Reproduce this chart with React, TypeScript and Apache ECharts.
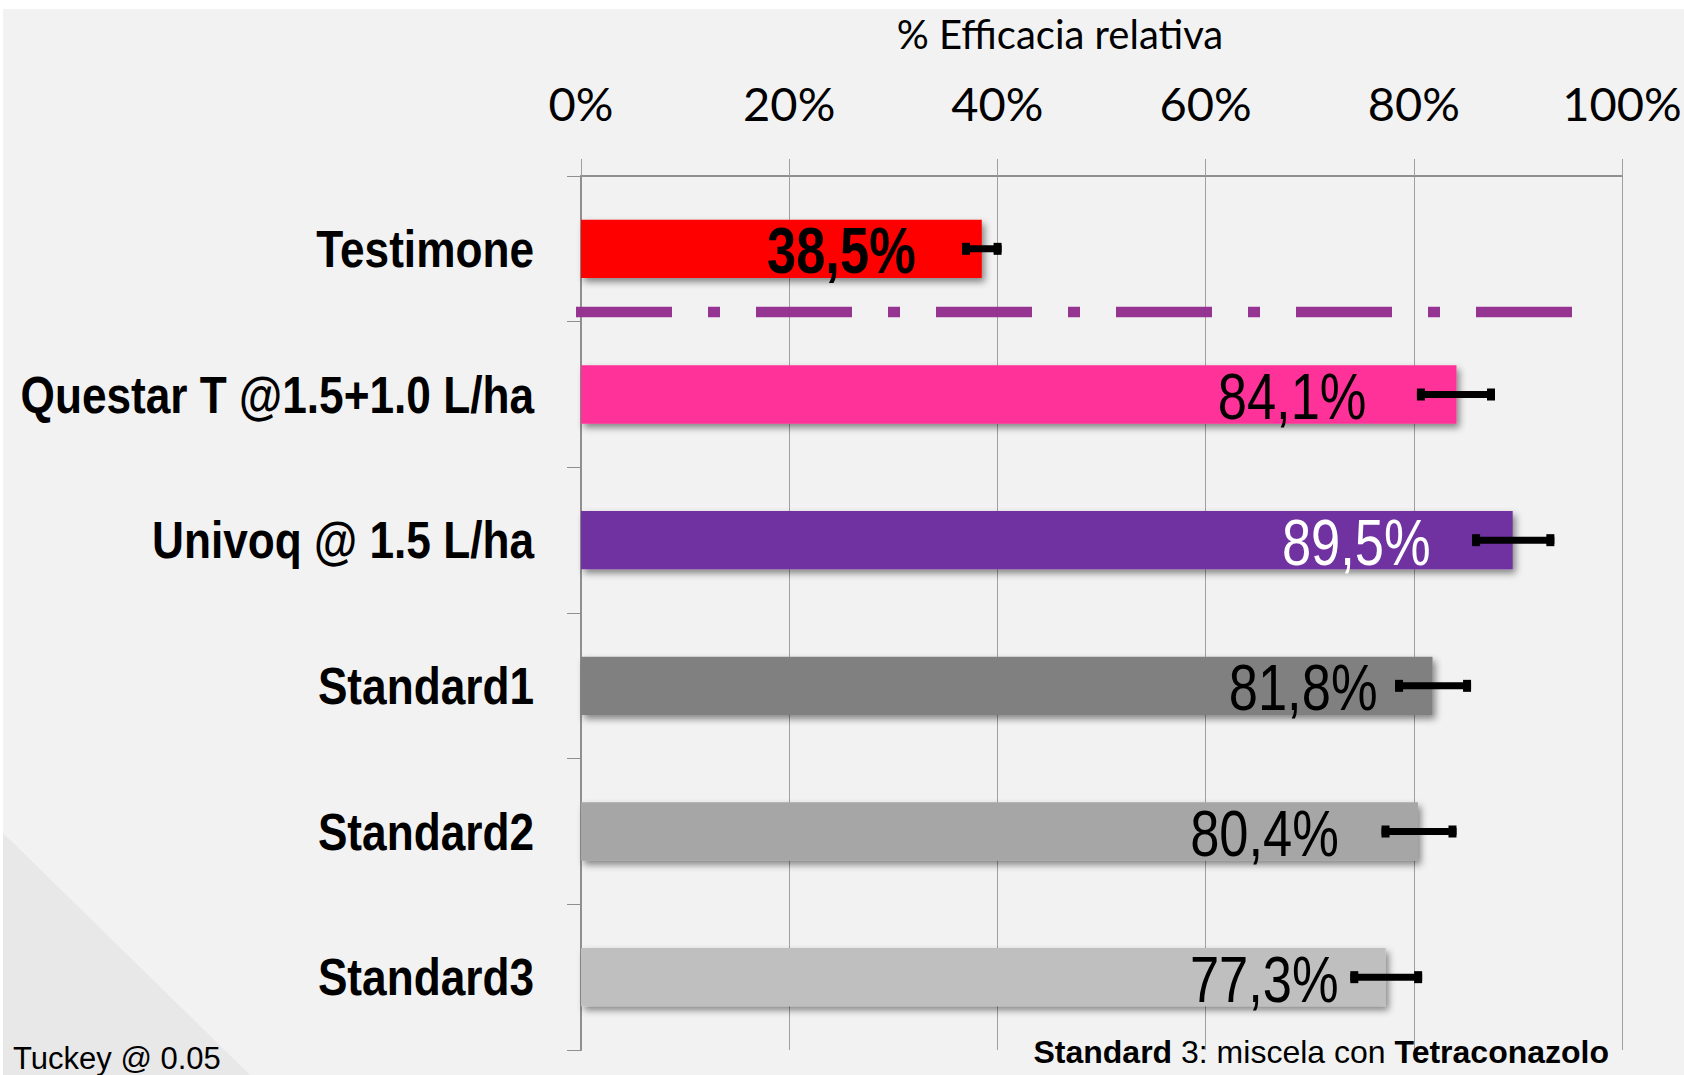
import React, { useEffect, useRef } from "react";
import * as echarts from "echarts";

// ---- data ----
const categories = [
  "Testimone",
  "Questar T @1.5+1.0 L/ha",
  "Univoq @ 1.5 L/ha",
  "Standard1",
  "Standard2",
  "Standard3",
];
const efficacy = [38.5, 84.1, 89.5, 81.8, 80.4, 77.3];
const errLow = [36.6, 80.3, 85.6, 78.2, 76.9, 73.9];
const errHigh = [40.4, 87.8, 93.5, 85.5, 84.1, 80.8];
const xTickValues = [0, 20, 40, 60, 80, 100];
const axisTitle = "% Efficacia relativa";
const noteLeft = "Tuckey @ 0.05";

// ---- styles ----
const barColors = ["#ff0000", "#ff3399", "#7030a0", "#808080", "#a6a6a6", "#bfbfbf"];
const labelColors = ["#000000", "#000000", "#ffffff", "#000000", "#000000", "#000000"];
const labelBold = [true, false, false, false, false, false];
const labelInset = [66, 90, 82, 55, 79, 47];

const CAL = 'Lato, "Liberation Sans", sans-serif';
const ARIAL = '"Liberation Sans", Arial, sans-serif';
const NARROW_SCALE = 0.82;

export default function App() {
  const ref = useRef<HTMLDivElement>(null);
  useEffect(() => {
    if (!ref.current) return;
    const chart = echarts.init(ref.current, null, { renderer: "svg" });
    const fmt = (v: number) => v.toFixed(1).replace(".", ",") + "%";
    const option: any = {
      animation: false,
      backgroundColor: "#ffffff",
      grid: { left: 581, right: 62, top: 176, bottom: 25, containLabel: false, outerBoundsMode: "none" },
      xAxis: {
        type: "value",
        position: "top",
        min: 0,
        max: 100,
        interval: 20,
        axisLine: { show: true, lineStyle: { color: "#8f8f8f", width: 2 } },
        axisTick: { show: true, inside: false, length: 17, lineStyle: { color: "#a0a0a0", width: 1 } },
        splitLine: { show: true, lineStyle: { color: "#a0a0a0", width: 1 } },
        axisLabel: {
          margin: 50,
          fontFamily: CAL,
          fontSize: 47,
          color: "#000000",
          formatter: (v: number) => (xTickValues.includes(v) ? v + "%" : ""),
        },
      },
      yAxis: {
        type: "category",
        inverse: true,
        data: categories,
        axisLine: { show: true, lineStyle: { color: "#8f8f8f", width: 2 } },
        axisTick: { show: true, inside: false, length: 14, lineStyle: { color: "#8f8f8f", width: 1 } },
        axisLabel: { show: false },
      },
      graphic: [
        { type: "rect", z: -10, shape: { x: 3, y: 9, width: 1681, height: 1066 }, style: { fill: "#f2f2f2" }, silent: true },
        { type: "polygon", z: -9, shape: { points: [[3, 833], [250, 1075], [3, 1075]] }, style: { fill: "#e8e8e8" }, silent: true },
        {
          type: "text", z: 10, x: 1060, y: 34,
          style: { text: axisTitle, font: `40px ${CAL}`, fill: "#000", align: "center", verticalAlign: "middle" },
        },
        {
          type: "line", z: 20,
          shape: { x1: 576, y1: 312, x2: 1572, y2: 312 },
          style: { stroke: "#953591", lineWidth: 10.5, lineDash: [96, 36, 12, 36], lineCap: "butt" },
          silent: true,
        },
        {
          type: "text", z: 10, x: 13, y: 1058,
          style: { text: noteLeft, font: `31px ${ARIAL}`, fill: "#000", align: "left", verticalAlign: "middle" },
        },
        {
          type: "text", z: 10, x: 1609, y: 1052,
          style: {
            text: "{b|Standard}{r| 3: miscela con }{b|Tetraconazolo}",
            align: "right", verticalAlign: "middle",
            rich: {
              b: { fontFamily: ARIAL, fontSize: 32, fontWeight: "bold", fill: "#000" },
              r: { fontFamily: ARIAL, fontSize: 32, fill: "#000" },
            },
          },
        },
      ],
      series: [
        {
          type: "bar",
          barWidth: "40%",
          z: 3,
          data: efficacy.map((v, i) => ({
            value: v,
            itemStyle: {
              color: barColors[i],
              shadowBlur: 7,
              shadowColor: "rgba(0,0,0,0.45)",
              shadowOffsetX: 3,
              shadowOffsetY: 4,
            },
          })),
        },
        {
          type: "custom",
          z: 5,
          encode: { x: [1, 2], y: 0 },
          data: efficacy.map((_, i) => [i, errLow[i], errHigh[i]]),
          renderItem: (params: any, api: any) => {
            const idx = api.value(0);
            const p1 = api.coord([api.value(1), idx]);
            const p2 = api.coord([api.value(2), idx]);
            const th = 7;
            const capW = 8;
            const capH = 12;
            const fill = { fill: "#000000" };
            return {
              type: "group",
              children: [
                { type: "rect", shape: { x: p1[0], y: p1[1] - th / 2, width: p2[0] - p1[0], height: th }, style: fill },
                { type: "rect", shape: { x: p1[0], y: p1[1] - capH / 2, width: capW, height: capH }, style: fill },
                { type: "rect", shape: { x: p2[0] - capW, y: p2[1] - capH / 2, width: capW, height: capH }, style: fill },
              ],
            };
          },
        },
        {
          // value labels inside bars (condensed)
          type: "custom",
          z: 4,
          encode: { x: 1, y: 0 },
          data: efficacy.map((v, i) => [i, v]),
          renderItem: (params: any, api: any) => {
            const idx = api.value(0);
            const v = api.value(1);
            const p = api.coord([v, idx]);
            const i = params.dataIndex;
            return {
              type: "text",
              x: p[0] - labelInset[i],
              y: p[1] + 2,
              scaleX: NARROW_SCALE,
              style: {
                text: fmt(v),
                x: 0,
                y: 0,
                fill: labelColors[i],
                fontFamily: ARIAL,
                fontSize: 64,
                fontWeight: labelBold[i] ? "bold" : "normal",
                align: "right",
                verticalAlign: "middle",
              },
            };
          },
        },
        {
          // category labels (condensed bold)
          type: "custom",
          z: 4,
          clip: false,
          encode: { x: 1, y: 0 },
          data: categories.map((_, i) => [i, 0]),
          renderItem: (params: any, api: any) => {
            const idx = api.value(0);
            const p = api.coord([0, idx]);
            return {
              type: "text",
              x: p[0] - 47,
              y: p[1],
              scaleX: 0.85,
              style: {
                text: categories[params.dataIndex],
                x: 0,
                y: 0,
                fill: "#000000",
                fontFamily: ARIAL,
                fontSize: 52,
                fontWeight: "bold",
                align: "right",
                verticalAlign: "middle",
              },
            };
          },
        },
      ],
    };
    chart.setOption(option);
    return () => chart.dispose();
  }, []);
  return (
    <div
      ref={ref}
      style={{ position: "fixed", left: 0, top: 0, width: 1684, height: 1075 }}
    />
  );
}
